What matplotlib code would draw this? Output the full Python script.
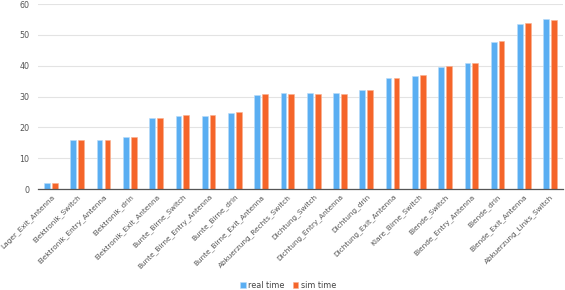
import numpy as np
import matplotlib.pyplot as plt

categories = [
    "Lager_Exit_Antenna", "Elektronik_Switch", "Elektronik_Entry_Antenna",
    "Elektronik_drin", "Elektronik_Exit_Antenna", "Bunte_Birne_Switch",
    "Bunte_Birne_Entry_Antenna", "Bunte_Birne_drin", "Bunte_Birne_Exit_Antenna",
    "Abkuerzung_Rechts_Switch", "Dichtung_Switch", "Dichtung_Entry_Antenna",
    "Dichtung_drin", "Dichtung_Exit_Antenna", "Klare_Birne_Switch",
    "Blende_Switch", "Blende_Entry_Antenna", "Blende_drin",
    "Blende_Exit_Antenna", "Abkuerzung_Links_Switch",
]
real_time = [2.0, 16.0, 16.0, 17.0, 23.0, 23.6, 23.6, 24.6, 30.5, 31.2,
             31.2, 31.2, 32.1, 36.0, 36.7, 39.6, 40.8, 47.7, 53.5, 55.1]
sim_time = [2.0, 16.0, 16.0, 17.0, 23.0, 23.9, 23.9, 24.9, 30.9, 30.9,
            30.9, 30.9, 32.0, 36.0, 37.0, 39.9, 41.0, 48.0, 53.9, 54.9]

blue = "#5aaef2"
orange = "#f5652a"

fig = plt.figure(figsize=(5.65, 2.9), dpi=100)
ax = fig.add_axes([0.067, 0.348, 0.93, 0.638])

x = np.arange(len(categories))
w = 0.22
ax.bar(x - 0.15, real_time, w, color=blue, edgecolor="#b9dcf8", linewidth=0.4,
       label="real time", zorder=3)
ax.bar(x + 0.15, sim_time, w, color=orange, edgecolor="#f9b08f", linewidth=0.4,
       label="sim time", zorder=3)

ax.set_xlim(-0.5, len(categories) - 0.5)
ax.set_ylim(0, 60)
ax.set_yticks(range(0, 61, 10))
ax.grid(axis="y", color="#e3e3e3", linewidth=0.8, zorder=0)
for s in ["top", "right", "left"]:
    ax.spines[s].set_visible(False)
ax.spines["bottom"].set_color("#555555")
ax.spines["bottom"].set_linewidth(0.9)
ax.spines["bottom"].set_zorder(4)

ax.set_xticks(x)
ax.set_xticklabels(categories, rotation=45, ha="right", rotation_mode="anchor",
                   fontsize=5.3, color="#555555")
ax.tick_params(axis="x", length=0, pad=3)
ax.tick_params(axis="y", length=0, labelsize=5.8, labelcolor="#555555", pad=6)

fig.legend(loc="lower center", bbox_to_anchor=(0.51, -0.025), ncol=2,
           frameon=False, fontsize=5.8, handlelength=0.7, handleheight=0.7,
           handletextpad=0.3, columnspacing=1.0, labelcolor="#444444")

fig.savefig("out.png", dpi=100)
